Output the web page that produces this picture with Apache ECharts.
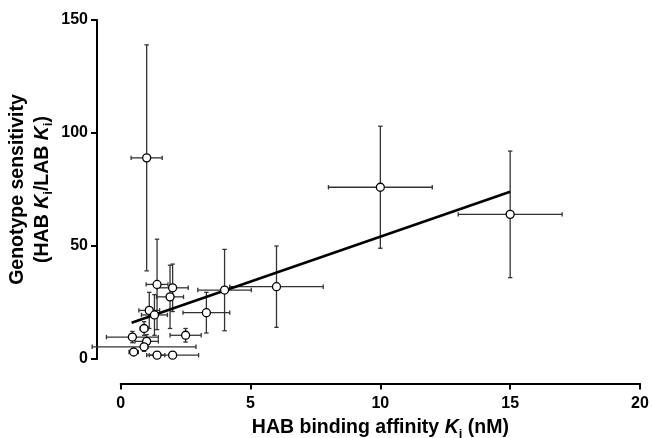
<!DOCTYPE html>
<html>
<head>
<meta charset="utf-8">
<script src="https://cdn.jsdelivr.net/npm/echarts@6/dist/echarts.min.js"></script>
<style>html,body{margin:0;padding:0;background:#fff}#c{width:652px;height:438px}</style>
</head>
<body>
<div id="c"></div>
<script>
// HAB binding affinity Ki (nM)
const xs    = [1.0, 1.4, 2.0, 1.9, 1.1, 1.3, 3.3, 4.0, 6.0, 0.9, 0.45, 2.5, 1.0, 0.9, 0.5, 1.4, 2.0, 10, 15];
// Genotype sensitivity
const ys    = [89, 33, 31.5, 27.5, 21.5, 19.5, 20.5, 30.5, 32, 13.5, 9.7, 10.5, 7.8, 5.4, 3.1, 1.7, 1.7, 76, 64];
// error (±) on x and y
const xErr  = [0.6, 0.42, 0.6, 0.52, 0.4, 0.5, 0.9, 1.03, 1.8, 0.15, 1.0, 0.6, 0.45, 2.0, 0.18, 0.3, 1.0, 2.0, 2.0];
const yErr  = [50, 20, 10.5, 14, 8, 9, 9, 18, 18, 3, 2.5, 3, 3, 2, 0, 0, 0, 27, 28];
// regression line end points
const fitX  = [0.42, 15];
const fitY  = [16.0, 74.0];
const xTicks = [0, 5, 10, 15, 20];
const yTicks = [0, 50, 100, 150];

const FONT = 'Liberation Sans, Arial, sans-serif';
const pts = xs.map((x, i) => [x, ys[i], xErr[i], yErr[i]]);

const TS = 19.5;
const rich = {
  b: {fontFamily: FONT, fontWeight: 'bold', fontSize: TS, color: '#000', lineHeight: 25, verticalAlign: 'middle'},
  i: {fontFamily: FONT, fontWeight: 'bold', fontStyle: 'italic', fontSize: TS, color: '#000', lineHeight: 25, verticalAlign: 'middle'},
  s: {fontFamily: FONT, fontWeight: 'bold', fontSize: 13, color: '#000', lineHeight: 25, verticalAlign: 'bottom'}
};

const chart = echarts.init(document.getElementById('c'), null, {renderer: 'canvas'});
chart.setOption({
  animation: false,
  backgroundColor: '#fff',
  grid: {left: 120.7, right: 12, top: 20, bottom: 79, containLabel: false, outerBoundsMode: 'none'},
  xAxis: {
    type: 'value', min: xTicks[0], max: xTicks[xTicks.length - 1], interval: 5,
    offset: 24.5,
    axisLine: {onZero: false, lineStyle: {color: '#000', width: 2}},
    axisTick: {inside: false, length: 6, lineStyle: {color: '#000', width: 2}},
    axisLabel: {fontFamily: FONT, fontWeight: 'bold', fontSize: 16, color: '#000', margin: 12},
    splitLine: {show: false},
    name: '{b|HAB binding affinity }{i|K}{s|i}{b| (nM)}',
    nameLocation: 'middle', nameGap: 32,
    nameTextStyle: {rich: rich}
  },
  yAxis: {
    type: 'value', min: yTicks[0], max: yTicks[yTicks.length - 1], interval: 50,
    offset: 23.7,
    axisLine: {onZero: false, lineStyle: {color: '#000', width: 2}},
    axisTick: {inside: false, length: 6, lineStyle: {color: '#000', width: 2}},
    axisLabel: {fontFamily: FONT, fontWeight: 'bold', fontSize: 16, color: '#000', margin: 9},
    splitLine: {show: false},
    name: '{b|Genotype sensitivity}\n{b|(HAB }{i|K}{s|i}{b|/LAB }{i|K}{s|i}{b|)}',
    nameLocation: 'middle', nameGap: 42, nameRotate: 90,
    nameMoveOverlap: false,
    nameTextStyle: {rich: rich, align: 'center'}
  },
  series: [
    {
      type: 'custom',
      data: pts,
      z: 2,
      clip: false,
      renderItem: function (params, api) {
        const x = api.value(0), y = api.value(1), ex = api.value(2), ey = api.value(3);
        const l = api.coord([x - ex, y]), r = api.coord([x + ex, y]);
        const t = api.coord([x, y + ey]), b = api.coord([x, y - ey]);
        const cap = 2.2;
        const st = {stroke: '#333', lineWidth: 1.3};
        const ch = [];
        if (ex > 0) {
          ch.push({type: 'line', shape: {x1: l[0], y1: l[1], x2: r[0], y2: r[1]}, style: st});
          ch.push({type: 'line', shape: {x1: l[0], y1: l[1] - cap, x2: l[0], y2: l[1] + cap}, style: st});
          ch.push({type: 'line', shape: {x1: r[0], y1: r[1] - cap, x2: r[0], y2: r[1] + cap}, style: st});
        }
        if (ey > 0) {
          ch.push({type: 'line', shape: {x1: t[0], y1: t[1], x2: b[0], y2: b[1]}, style: st});
          ch.push({type: 'line', shape: {x1: t[0] - cap, y1: t[1], x2: t[0] + cap, y2: t[1]}, style: st});
          ch.push({type: 'line', shape: {x1: b[0] - cap, y1: b[1], x2: b[0] + cap, y2: b[1]}, style: st});
        }
        return {type: 'group', children: ch};
      }
    },
    {
      type: 'line',
      data: fitX.map((x, i) => [x, fitY[i]]),
      symbol: 'none',
      z: 3,
      lineStyle: {color: '#000', width: 2.6}
    },
    {
      type: 'scatter',
      data: pts.map(p => [p[0], p[1]]),
      symbol: 'circle', symbolSize: 8,
      z: 4,
      itemStyle: {color: '#fff', borderColor: '#000', borderWidth: 1.3, opacity: 1}
    }
  ]
});
</script>
</body>
</html>
